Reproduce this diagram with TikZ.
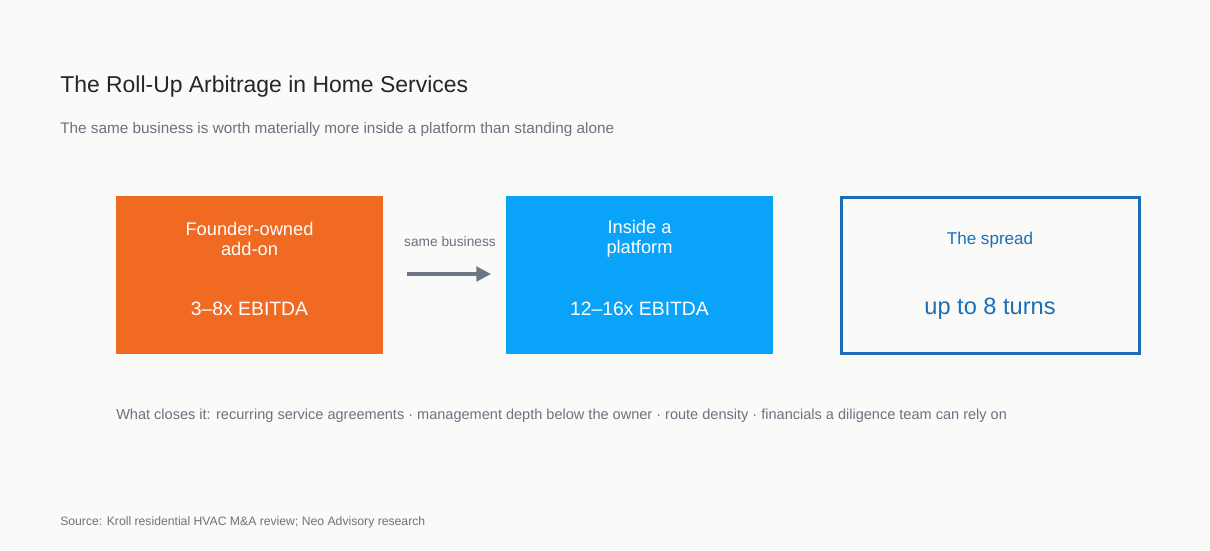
\documentclass[tikz,border=0pt]{standalone}
\usepackage{fontspec}
\setmainfont{Liberation Sans}
\usetikzlibrary{positioning}
\usetikzlibrary{arrows.meta}
\definecolor{bgcol}{HTML}{FAFAF8}
\definecolor{orangebox}{HTML}{F06A22}
\definecolor{bluebox}{HTML}{0AA3FA}
\definecolor{darkblue}{HTML}{1A6FB8}
\definecolor{greytext}{HTML}{6B7280}
\definecolor{arrowgrey}{HTML}{6B7785}
\tikzset{
	every node/.style={inner sep=0pt},
	box/.style={
		minimum width=200.25pt,
		minimum height=118.5pt},
	boxtext/.style={
		font=\fontsize{13.7}{15}\selectfont,
		align=center},
	bigtext/.style={
		font=\fontsize{14.5}{17}\selectfont}
}
\begin{document}
\begin{tikzpicture}[x=0.75pt,y=-0.75pt]
	\useasboundingbox[fill=bgcol] (0,0) rectangle (1210,550);
	
	\node[anchor=base west, font=\fontsize{17.2}{19}\selectfont, text=black!85] (title) at (60,92) {The Roll-Up Arbitrage in Home Services};
	\node[anchor=base west, font=\fontsize{11.5}{13}\selectfont, text=greytext] (sub) at (60,133) {The same business is worth materially more inside a platform than standing alone};
	
	\node[box, fill=orangebox, anchor=north west] (addon) at (116,196) {};
	\node[box, fill=bluebox, anchor=north west] (platform) at (506,196) {};
	\node[box, draw=darkblue, line width=2.2pt, minimum width=223.5pt, minimum height=117pt, anchor=north west] (spread) at (840,196) {};
	
	\node[boxtext, text=white] at (249.5,239) {Founder-owned\\add-on};
	\node[bigtext, text=white] at (249.5,309) {3--8x EBITDA};
	\node[boxtext, text=white] at (639.5,239) {Inside a\\platform};
	\node[bigtext, text=white] at (639.5,309) {12--16x EBITDA};
	\node[text=darkblue, font=\fontsize{12.8}{14}\selectfont] at (990,240) {The spread};
	\node[text=darkblue, font=\fontsize{17.7}{19}\selectfont] at (990,309) {up to 8 turns};
	
	\coordinate (from) at (407,274);
	\coordinate (to) at (491,274);
	\draw[arrowgrey, line width=2.4pt, -{Triangle[length=11pt,width=11pt]}] (from) -- (to);
	\node[font=\fontsize{10.3}{11}\selectfont, text=greytext] (same) at (450,242) {same business};
	
	\node[anchor=base west, font=\fontsize{10.9}{12}\selectfont, text=greytext] (closes) at (116,419) {What closes it: recurring service agreements · management depth below the owner · route density · financials a diligence team can rely on};
	\node[anchor=base west, font=\fontsize{9.15}{10}\selectfont, text=greytext] (source) at (60,525) {Source: Kroll residential HVAC M\&A review; Neo Advisory research};
\end{tikzpicture}
\end{document}
